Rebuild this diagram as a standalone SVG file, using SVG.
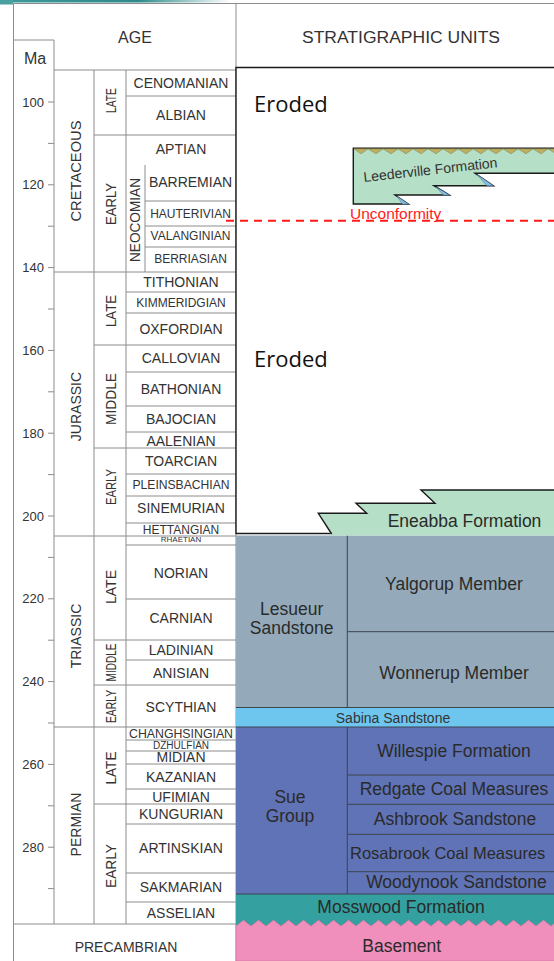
<svg xmlns="http://www.w3.org/2000/svg" width="554" height="961" viewBox="0 0 554 961">
<defs>
<linearGradient id="topbar" x1="0" y1="0" x2="1" y2="0">
<stop offset="0" stop-color="#3d9a9a"/>
<stop offset="0.6" stop-color="#2f8a8a"/>
<stop offset="1" stop-color="#ffffff"/>
</linearGradient>
<style>
.ln{stroke:#8c8c8c;stroke-width:1;fill:none}
.tk{stroke:#8c8c8c;stroke-width:1}
.t{font-family:"Liberation Sans",Arial,sans-serif;fill:#333;text-anchor:middle}
.st{font-size:14px}
.s12{font-size:12px}
.ma{font-family:"Liberation Sans",Arial,sans-serif;font-size:13px;fill:#333;text-anchor:end}
.hd{font-size:16px}
.er{font-family:"Open Sans","Noto Sans",sans-serif;font-size:22px;fill:#111}
.u{font-family:"Liberation Sans",Arial,sans-serif;font-size:17.5px;fill:#2a2a2a;text-anchor:middle}
.dv{stroke:#3c4450;stroke-width:1;fill:none}
.blk{stroke:#1a1a1a;stroke-width:1.4;fill:none}
</style>
</defs>

<rect width="554" height="961" fill="#ffffff"/>
<rect x="0" y="0" width="230" height="2.5" fill="url(#topbar)"/>
<rect x="0" y="0" width="13" height="4.5" fill="#4a9f9f"/>

<!-- AGE TABLE -->
<g id="age-table">
<path class="ln" d="M13.5 3.5H554 M13.5 3.5V961 M236 3.5V961 M13.5 40H54 M54 40V924 M54 70H236 M94 70V924 M126 70V924 M145 165V272"/>
<path class="ln" d="M54 272H236 M54 536H236 M54 727H236 M13.5 924H236"/>
<path class="ln" d="M94 135H236 M94 345H236 M94 448H236 M94 640H236 M94 685H236 M94 804H236"/>
<path class="ln" d="M126 96H236 M145 201H236 M145 226H236 M145 247H236 M126 292H236 M126 313H236 M126 372H236 M126 406H236 M126 432H236 M126 474H236 M126 496H236 M126 523H236 M126 545H236 M126 599H236 M126 660H236 M126 740H236 M126 751H236 M126 764H236 M126 789H236 M126 824H236 M126 873H236 M126 902H236"/>
<path class="tk" d="M48 102H54 M48 143.4H54 M48 184.8H54 M48 226.2H54 M48 267.6H54 M48 309H54 M48 350.4H54 M48 391.8H54 M48 433.2H54 M48 474.6H54 M48 516H54 M48 557.4H54 M48 598.8H54 M48 640.2H54 M48 681.6H54 M48 723H54 M48 764.4H54 M48 805.8H54 M48 847.2H54 M48 888.6H54"/>
<text class="ma" x="44" y="106.5">100</text>
<text class="ma" x="44" y="189.3">120</text>
<text class="ma" x="44" y="272.1">140</text>
<text class="ma" x="44" y="354.9">160</text>
<text class="ma" x="44" y="437.7">180</text>
<text class="ma" x="44" y="520.5">200</text>
<text class="ma" x="44" y="603.3">220</text>
<text class="ma" x="44" y="686.1">240</text>
<text class="ma" x="44" y="768.9">260</text>
<text class="ma" x="44" y="851.7">280</text>
<text class="t hd" x="135" y="43.3">AGE</text>
<text class="t hd" x="35" y="64">Ma</text>
</g>

<g id="eras">
<text class="t st" x="80.5" y="171" transform="rotate(-90 80.5 171)" textLength="101" lengthAdjust="spacingAndGlyphs">CRETACEOUS</text>
<text class="t st" x="80.5" y="406.5" transform="rotate(-90 80.5 406.5)">JURASSIC</text>
<text class="t st" x="80.5" y="636" transform="rotate(-90 80.5 636)">TRIASSIC</text>
<text class="t st" x="80.5" y="824.5" transform="rotate(-90 80.5 824.5)">PERMIAN</text>
<text class="t st" x="126" y="952.3">PRECAMBRIAN</text>
</g>

<g id="epochs">
<text class="t st" x="116" y="100.5" transform="rotate(-90 116 100.5)" textLength="25" lengthAdjust="spacingAndGlyphs">LATE</text>
<text class="t st" x="116" y="204" transform="rotate(-90 116 204)" textLength="42" lengthAdjust="spacingAndGlyphs">EARLY</text>
<text class="t st" x="139.5" y="220" transform="rotate(-90 139.5 220)" textLength="84" lengthAdjust="spacingAndGlyphs">NEOCOMIAN</text>
<text class="t st" x="116" y="311" transform="rotate(-90 116 311)" textLength="32" lengthAdjust="spacingAndGlyphs">LATE</text>
<text class="t st" x="116" y="399" transform="rotate(-90 116 399)" textLength="52" lengthAdjust="spacingAndGlyphs">MIDDLE</text>
<text class="t st" x="116" y="487" transform="rotate(-90 116 487)" textLength="36" lengthAdjust="spacingAndGlyphs">EARLY</text>
<text class="t st" x="116" y="587" transform="rotate(-90 116 587)" textLength="34" lengthAdjust="spacingAndGlyphs">LATE</text>
<text class="t st" x="116" y="662.5" transform="rotate(-90 116 662.5)" textLength="38" lengthAdjust="spacingAndGlyphs">MIDDLE</text>
<text class="t st" x="116" y="706.5" transform="rotate(-90 116 706.5)" textLength="33" lengthAdjust="spacingAndGlyphs">EARLY</text>
<text class="t st" x="116" y="768" transform="rotate(-90 116 768)" textLength="33" lengthAdjust="spacingAndGlyphs">LATE</text>
<text class="t st" x="116" y="866" transform="rotate(-90 116 866)" textLength="44" lengthAdjust="spacingAndGlyphs">EARLY</text>
</g>

<g id="stages">
<text class="t st" x="181" y="88">CENOMANIAN</text>
<text class="t st" x="181" y="119.5">ALBIAN</text>
<text class="t st" x="181" y="154">APTIAN</text>
<text class="t st" x="190.5" y="187">BARREMIAN</text>
<text class="t s12" x="190.5" y="217.5">HAUTERIVIAN</text>
<text class="t s12" x="190.5" y="240">VALANGINIAN</text>
<text class="t s12" x="190.5" y="262.7">BERRIASIAN</text>
<text class="t st" x="181" y="286.7">TITHONIAN</text>
<text class="t s12" x="181" y="306.7">KIMMERIDGIAN</text>
<text class="t st" x="181" y="334">OXFORDIAN</text>
<text class="t st" x="181" y="363.3">CALLOVIAN</text>
<text class="t st" x="181" y="394">BATHONIAN</text>
<text class="t st" x="181" y="424.3">BAJOCIAN</text>
<text class="t st" x="181" y="446">AALENIAN</text>
<text class="t st" x="181" y="466">TOARCIAN</text>
<text class="t s12" x="181" y="489" textLength="97" lengthAdjust="spacingAndGlyphs">PLEINSBACHIAN</text>
<text class="t st" x="181" y="513.3">SINEMURIAN</text>
<text class="t s12" x="181" y="533.5">HETTANGIAN</text>
<text class="t" x="181" y="542" font-size="8">RHAETIAN</text>
<text class="t st" x="181" y="578.3">NORIAN</text>
<text class="t st" x="181" y="622.7">CARNIAN</text>
<text class="t st" x="181" y="655">LADINIAN</text>
<text class="t st" x="181" y="678.3">ANISIAN</text>
<text class="t st" x="181" y="711.7">SCYTHIAN</text>
<text class="t" x="181" y="737.5" font-size="12" textLength="104" lengthAdjust="spacingAndGlyphs">CHANGHSINGIAN</text>
<text class="t" x="181" y="748.5" font-size="10">DZHULFIAN</text>
<text class="t st" x="181" y="761.7">MIDIAN</text>
<text class="t st" x="181" y="781.7">KAZANIAN</text>
<text class="t st" x="181" y="801.7">UFIMIAN</text>
<text class="t st" x="181" y="819.3">KUNGURIAN</text>
<text class="t st" x="181" y="853.3">ARTINSKIAN</text>
<text class="t st" x="181" y="891.7">SAKMARIAN</text>
<text class="t st" x="181" y="917.7">ASSELIAN</text>
</g>

<g id="units-header">
<text class="t hd" x="401" y="43.3" textLength="198" lengthAdjust="spacingAndGlyphs">STRATIGRAPHIC UNITS</text>
</g>

<g id="eroded">
<path d="M236 67.5H560V533.5H236Z" fill="#ffffff"/>
<path class="blk" d="M560 67.5H236V533.5H332"/>
<text class="er" x="254" y="112">Eroded</text>
<text class="er" x="254" y="367">Eroded</text>
</g>

<g id="leederville">
<path d="M353.3 148.3H560V173.3H475L493.3 185.7H434L449.3 195H395L408.3 204H353.3Z" fill="#b5dfc6" stroke="#1a1a1a" stroke-width="1.4" stroke-linejoin="miter"/>
<path d="M477 174.6L493.3 185.7H487Z M436 187L449.3 195H443.5Z M397 196.3L408.3 204H402.5Z" fill="#86bfe0" stroke="#4a7fa8" stroke-width="0.6"/>
<path d="M354 148.8L361 153.8L368 148.8L376 153.8L383 148.8L391 153.8L398 148.8L406 153.8L413 148.8L421 153.8L428 148.8L436 153.8L443 148.8L451 153.8L458 148.8L466 153.8L473 148.8L481 153.8L488 148.8L496 153.8L503 148.8L511 153.8L518 148.8L526 153.8L533 148.8L541 153.8L548 148.8L556 153.8L560 148.8Z" fill="#bdb060" stroke="#8a8450" stroke-width="0.6"/>
<text x="364" y="182" font-family="'Liberation Sans',Arial,sans-serif" font-size="14" fill="#333" transform="rotate(-6.3 364 182)">Leederville Formation</text>
</g>

<g id="unconformity">
<line x1="226" y1="220.7" x2="554" y2="220.7" stroke="#ff1a1a" stroke-width="2" stroke-dasharray="8 6"/>
<text x="350" y="219" font-family="'Liberation Sans',Arial,sans-serif" font-size="15.5" fill="#ff1a1a">Unconformity</text>
</g>

<g id="lesueur">
<rect x="236" y="535.5" width="324" height="172" fill="#94aabb"/>
<path class="dv" d="M347.3 535.5V707.5 M347.3 631.7H560"/>
<text class="u" x="291.7" y="615">Lesueur</text>
<text class="u" x="291.7" y="634">Sandstone</text>
<text class="u" x="454" y="590">Yalgorup Member</text>
<text class="u" x="454" y="679">Wonnerup Member</text>
</g>

<g id="eneabba">
<path d="M331.7 535.5L318.3 513.3H366.7L356 503.3H435L421 490H560V535.5Z" fill="#b5dfc6"/>
<path class="blk" d="M331.7 534L318.3 513.3H366.7L356 503.3H435L421 490H560"/>
<text class="u" x="464.5" y="527">Eneabba Formation</text>
</g>

<g id="sabina">
<rect x="236" y="707.5" width="324" height="19.5" fill="#6ec6ef"/>
<path class="dv" d="M236 707.5H560"/>
<text class="t" x="393" y="723.3" font-size="14" fill="#2a2a2a">Sabina Sandstone</text>
</g>

<g id="sue-group">
<rect x="236" y="727" width="324" height="167" fill="#6073b6"/>
<path class="dv" d="M236 727H560 M347.3 727V894 M347.3 775H560 M347.3 804.3H560 M347.3 834.3H560 M347.3 871.7H560"/>
<text class="u" x="290" y="803.3">Sue</text>
<text class="u" x="290" y="821.7">Group</text>
<text class="u" x="454" y="757">Willespie Formation</text>
<text class="u" x="454" y="795">Redgate Coal Measures</text>
<text class="u" x="455" y="825">Ashbrook Sandstone</text>
<text class="u" x="350" y="859" style="text-anchor:start;font-size:16.5px">Rosabrook Coal Measures</text>
<text class="u" x="456.5" y="888.3">Woodynook Sandstone</text>
</g>

<g id="mosswood">
<rect x="236" y="894" width="324" height="36" fill="#34a0a0"/>
<path class="dv" d="M236 894H560"/>
<text class="u" x="401" y="913.3">Mosswood Formation</text>
</g>

<g id="basement">
<path d="M236 926L243.5 920L251 926L258.5 920L266 926L273.5 920L281 926L288.5 920L296 926L303.5 920L311 926L318.5 920L326 926L333.5 920L341 926L348.5 920L356 926L363.5 920L371 926L378.5 920L386 926L393.5 920L401 926L408.5 920L416 926L423.5 920L431 926L438.5 920L446 926L453.5 920L461 926L468.5 920L476 926L483.5 920L491 926L498.5 920L506 926L513.5 920L521 926L528.5 920L536 926L543.5 920L551 926L558.5 920V961H236Z" fill="#f08fbc" stroke="#c06a98" stroke-width="0.5"/>
<text class="u" x="401.7" y="951.7">Basement</text>
</g>
</svg>
